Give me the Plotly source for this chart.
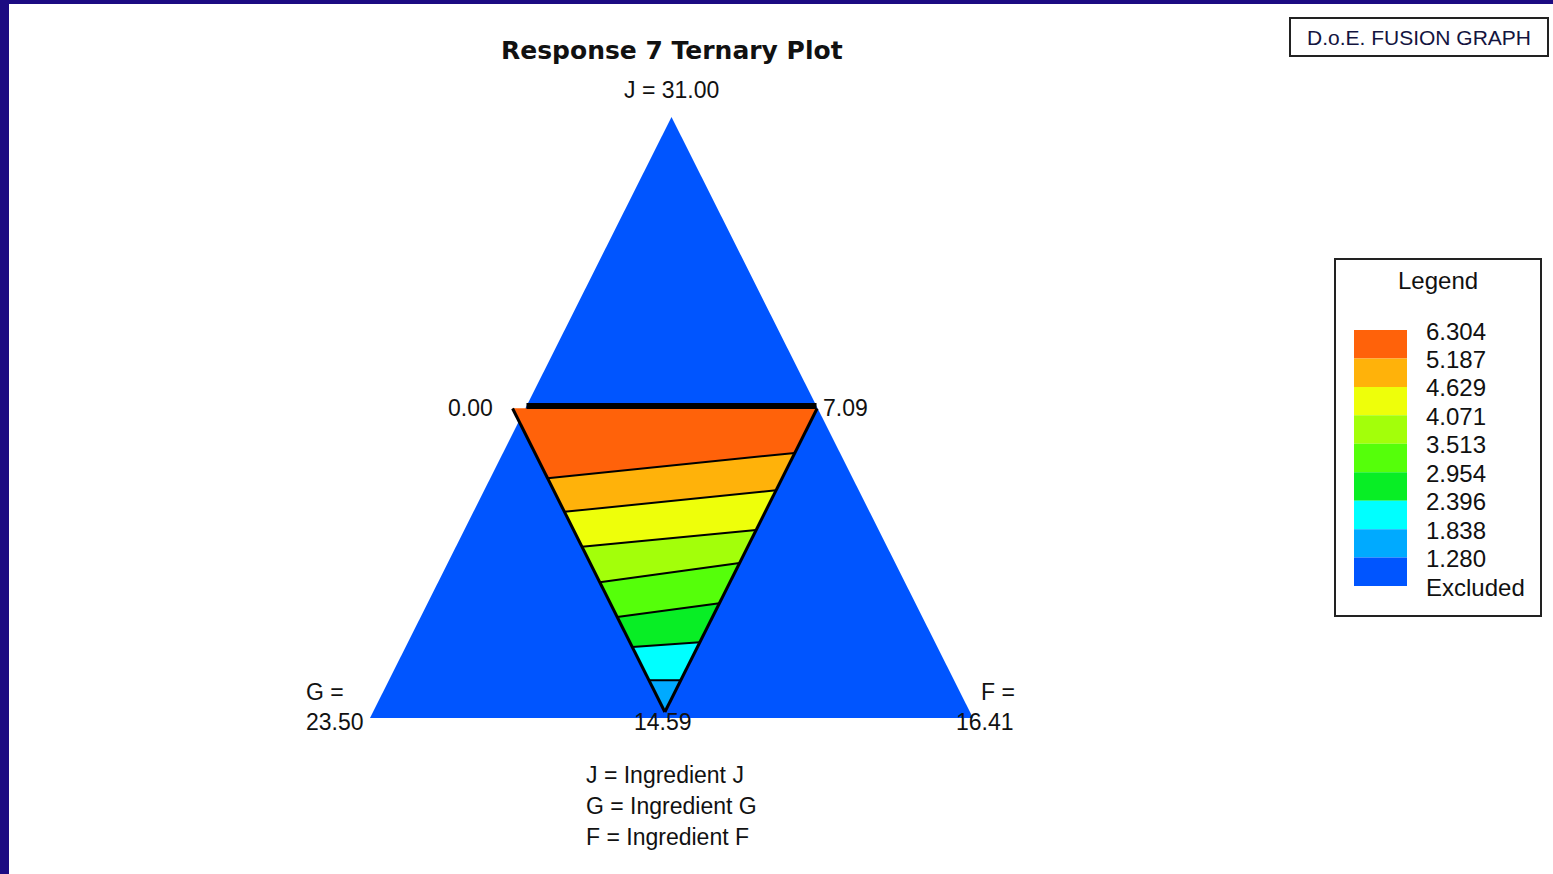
import plotly.graph_objects as go

# simplex vertices as (J, F) fractions; G = 1 - J - F
vertex_names = ["J", "G", "F"]
vertex_j = [1.0, 0.0, 0.0]
vertex_f = [0.0, 0.0, 1.0]
vertex_values = ["31.00", "23.50", "16.41"]
ingredient_names = ["Ingredient J", "Ingredient G", "Ingredient F"]

# feasible region limits (fractions of the simplex)
j_limit = 0.515
g_limit = 0.506
f_limit = 0.484
constraint_j = 0.519
corner_values = ["0.00", "7.09", "14.59"]

# J fraction where each contour meets the G-limit edge (left) and F-limit edge (right), top to bottom
contour_j_left = [0.399, 0.343, 0.285, 0.226, 0.168, 0.118, 0.063]
contour_j_right = [0.441, 0.379, 0.313, 0.258, 0.191, 0.126, 0.063]

legend_levels = ["6.304", "5.187", "4.629", "4.071", "3.513", "2.954",
                 "2.396", "1.838", "1.280", "Excluded"]
band_colors = ["#ff620a", "#ffb20a", "#eeff0a", "#a3ff0a", "#55ff0a",
               "#08ee25", "#00ffff", "#00aaff", "#0055ff"]

W, H = 1553, 874
LABEL_FONT = dict(family="Liberation Sans, Arial, sans-serif", size=23, color="#111111")
LEGEND_FONT = dict(family="Liberation Sans, Arial, sans-serif", size=24, color="#111111")


def tx(j, f):
    return f + j / 2


def left_pt(j):
    return tx(j, 1 - j - g_limit), j


def right_pt(j):
    return tx(j, f_limit), j


fig = go.Figure()

# excluded area = whole simplex
xs = [tx(j, f) for j, f in zip(vertex_j, vertex_f)]
ys = list(vertex_j)
fig.add_trace(go.Scatter(x=xs + xs[:1], y=ys + ys[:1], mode="lines", fill="toself",
                         fillcolor=band_colors[-1], line=dict(width=0), hoverinfo="skip"))

# contour bands inside the feasible region
j_tip = 1 - g_limit - f_limit
tops_l = [j_limit] + contour_j_left
tops_r = [j_limit] + contour_j_right
bots_l = contour_j_left + [j_tip]
bots_r = contour_j_right + [j_tip]
for i in range(len(tops_l)):
    pts = [left_pt(tops_l[i]), right_pt(tops_r[i]), right_pt(bots_r[i]), left_pt(bots_l[i])]
    pts.append(pts[0])
    fig.add_trace(go.Scatter(x=[p[0] for p in pts], y=[p[1] for p in pts], mode="lines",
                             fill="toself", fillcolor=band_colors[i],
                             line=dict(width=0.5, color=band_colors[i]), hoverinfo="skip"))

# contour lines
for jl, jr in zip(contour_j_left, contour_j_right):
    a, b = left_pt(jl), right_pt(jr)
    fig.add_trace(go.Scatter(x=[a[0], b[0]], y=[a[1], b[1]], mode="lines",
                             line=dict(color="black", width=2), hoverinfo="skip"))

# region outline
for edge in (left_pt, right_pt):
    a, b = edge(j_limit), edge(j_tip)
    fig.add_trace(go.Scatter(x=[a[0], b[0]], y=[a[1], b[1]], mode="lines",
                             line=dict(color="black", width=3), hoverinfo="skip"))

# J upper constraint
fig.add_trace(go.Scatter(x=[tx(constraint_j, 0), tx(constraint_j, 1 - constraint_j)],
                         y=[constraint_j, constraint_j], mode="lines",
                         line=dict(color="black", width=6), hoverinfo="skip"))

x0_px, x1_px, base_px, apex_px = 370, 973, 718, 117
sx = x1_px - x0_px
sy = base_px - apex_px
fig.update_xaxes(visible=False, range=[-x0_px / sx, (W - x0_px) / sx])
fig.update_yaxes(visible=False, range=[-(H - base_px) / sy, base_px / sy])


def px(x):
    return x / W


def py(y):
    return 1 - y / H


def paper_text(x, y, text, font, xanchor="center"):
    return dict(x=px(x), y=py(y), xref="paper", yref="paper", showarrow=False,
                xanchor=xanchor, yanchor="middle", text=text, font=font)


ann = []
ann.append(paper_text(672, 51, "<b>Response 7 Ternary Plot</b>",
                      dict(family="DejaVu Sans", size=25, color="#111111")))
# vertex labels
ann.append(dict(x=tx(vertex_j[0], vertex_f[0]), y=vertex_j[0], showarrow=False, yshift=27,
                text=f"{vertex_names[0]} = {vertex_values[0]}", font=LABEL_FONT))
ann.append(dict(x=tx(vertex_j[1], vertex_f[1]), y=vertex_j[1], showarrow=False, xanchor="left",
                xshift=-66, yshift=26, text=f"{vertex_names[1]} =", font=LABEL_FONT))
ann.append(dict(x=tx(vertex_j[1], vertex_f[1]), y=vertex_j[1], showarrow=False, xanchor="left",
                xshift=-66, yshift=-4, text=vertex_values[1], font=LABEL_FONT))
ann.append(dict(x=tx(vertex_j[2], vertex_f[2]), y=vertex_j[2], showarrow=False, xanchor="left",
                xshift=6, yshift=26, text=f"{vertex_names[2]} =", font=LABEL_FONT))
ann.append(dict(x=tx(vertex_j[2], vertex_f[2]), y=vertex_j[2], showarrow=False, xanchor="left",
                xshift=-19, yshift=-4, text=vertex_values[2], font=LABEL_FONT))
# region corner labels
ann.append(dict(x=tx(constraint_j, 0), y=constraint_j, showarrow=False, xanchor="right",
                xshift=-31, yshift=-2, text=corner_values[0], font=LABEL_FONT))
ann.append(dict(x=tx(constraint_j, 1 - constraint_j), y=constraint_j, showarrow=False,
                xanchor="left", xshift=4, yshift=-2, text=corner_values[1], font=LABEL_FONT))
ann.append(dict(x=right_pt(j_tip)[0], y=j_tip, showarrow=False, xshift=-2, yshift=-10,
                text=corner_values[2], font=LABEL_FONT))
# ingredient key
for k, (n, name) in enumerate(zip(vertex_names, ingredient_names)):
    ann.append(paper_text(584, 775 + 31 * k, f"{n} = {name}", LABEL_FONT, xanchor="left"))

# fusion graph tag
ann.append(paper_text(1419, 37, "D.o.E. FUSION GRAPH",
                      dict(family="Liberation Sans, Arial", size=21, color="#141440")))

shapes = [
    dict(type="rect", xref="paper", yref="paper", x0=0, x1=px(9), y0=0, y1=1,
         fillcolor="#1c0b82", line=dict(width=0), layer="above"),
    dict(type="rect", xref="paper", yref="paper", x0=0, x1=1, y0=py(4), y1=1,
         fillcolor="#1c0b82", line=dict(width=0), layer="above"),
    dict(type="rect", xref="paper", yref="paper", x0=px(1290), x1=px(1548), y0=py(56), y1=py(18),
         line=dict(color="#222222", width=2)),
    dict(type="rect", xref="paper", yref="paper", x0=px(1335), x1=px(1541), y0=py(616), y1=py(259),
         line=dict(color="#222222", width=2)),
]

# legend
ann.append(paper_text(1438, 280, "Legend", LEGEND_FONT))
box_top, box_h = 330, 28.45
for k, c in enumerate(band_colors):
    shapes.append(dict(type="rect", xref="paper", yref="paper", x0=px(1354), x1=px(1407),
                       y0=py(box_top + box_h * (k + 1)), y1=py(box_top + box_h * k),
                       fillcolor=c, line=dict(width=0)))
for k, lab in enumerate(legend_levels):
    ann.append(paper_text(1424, box_top + 1 + box_h * k, lab, LEGEND_FONT, xanchor="left"))

fig.update_layout(width=W, height=H, margin=dict(l=0, r=0, t=0, b=0),
                  paper_bgcolor="white", plot_bgcolor="white", showlegend=False,
                  annotations=ann, shapes=shapes)

# drop the browser's default body margin so the figure fills the window
fig.write_html("out.html", config={"displayModeBar": False},
               post_script="document.body.style.margin = '0';")
